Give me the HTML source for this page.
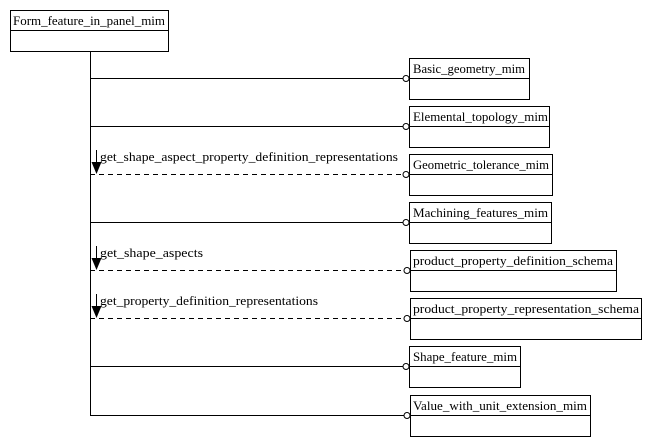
<!DOCTYPE html>
<html><head><style>html,body{margin:0;padding:0;background:#fff}svg{display:block}</style></head>
<body>
<svg width="652" height="446" xmlns="http://www.w3.org/2000/svg" style="font-family:'Liberation Serif',serif;font-size:13px">
<rect width="652" height="446" fill="#fff"/>
<g fill="none" stroke="#000" stroke-width="1">
<rect x="10.5" y="10.5" width="158" height="41"/><line x1="10.5" y1="30.5" x2="168.5" y2="30.5"/>
<line x1="90.5" y1="51" x2="90.5" y2="415"/>
<rect x="409.5" y="58.5" width="120" height="41"/><line x1="409.5" y1="78.5" x2="529.5" y2="78.5"/>
<rect x="409.5" y="106.5" width="140" height="41"/><line x1="409.5" y1="126.5" x2="549.5" y2="126.5"/>
<rect x="409.5" y="154.5" width="143" height="41"/><line x1="409.5" y1="174.5" x2="552.5" y2="174.5"/>
<rect x="409.5" y="202.5" width="142" height="41"/><line x1="409.5" y1="222.5" x2="551.5" y2="222.5"/>
<rect x="410.5" y="250.5" width="206" height="41"/><line x1="410.5" y1="270.5" x2="616.5" y2="270.5"/>
<rect x="410.5" y="298.5" width="231" height="41"/><line x1="410.5" y1="318.5" x2="641.5" y2="318.5"/>
<rect x="409.5" y="346.5" width="111" height="41"/><line x1="409.5" y1="366.5" x2="520.5" y2="366.5"/>
<rect x="410.5" y="395.5" width="180" height="41"/><line x1="410.5" y1="415.5" x2="590.5" y2="415.5"/>
<line x1="90" y1="78.5" x2="403" y2="78.5"/>
<line x1="90" y1="126.5" x2="403" y2="126.5"/>
<line x1="90" y1="174.5" x2="403" y2="174.5" stroke-dasharray="5,4"/>
<line x1="90" y1="222.5" x2="403" y2="222.5"/>
<line x1="90" y1="270.5" x2="404" y2="270.5" stroke-dasharray="5,4"/>
<line x1="90" y1="318.5" x2="404" y2="318.5" stroke-dasharray="5,4"/>
<line x1="90" y1="366.5" x2="403" y2="366.5"/>
<line x1="90" y1="415.5" x2="404" y2="415.5"/>
<circle cx="406" cy="78.5" r="3"/>
<circle cx="406" cy="126.5" r="3"/>
<circle cx="406" cy="174.5" r="3"/>
<circle cx="406" cy="222.5" r="3"/>
<circle cx="407" cy="270.5" r="3"/>
<circle cx="407" cy="318.5" r="3"/>
<circle cx="406" cy="366.5" r="3"/>
<circle cx="407" cy="415.5" r="3"/>
<line x1="96.5" y1="150" x2="96.5" y2="164"/>
<line x1="96.5" y1="246" x2="96.5" y2="260"/>
<line x1="96.5" y1="294" x2="96.5" y2="308"/>
</g>
<g fill="#000">
<polygon points="91.5,162 101.5,162 96.5,174"/>
<polygon points="91.5,258 101.5,258 96.5,270"/>
<polygon points="91.5,306 101.5,306 96.5,318"/>
</g>
<g fill="#000" lengthAdjust="spacingAndGlyphs">
<text x="13" y="25" textLength="152" lengthAdjust="spacingAndGlyphs">Form_feature_in_panel_mim</text>
<text x="413" y="73" textLength="112" lengthAdjust="spacingAndGlyphs">Basic_geometry_mim</text>
<text x="413" y="121" textLength="135" lengthAdjust="spacingAndGlyphs">Elemental_topology_mim</text>
<text x="413" y="169" textLength="136" lengthAdjust="spacingAndGlyphs">Geometric_tolerance_mim</text>
<text x="413" y="217" textLength="135" lengthAdjust="spacingAndGlyphs">Machining_features_mim</text>
<text x="413" y="265" textLength="200" lengthAdjust="spacingAndGlyphs">product_property_definition_schema</text>
<text x="413" y="313" textLength="226" lengthAdjust="spacingAndGlyphs">product_property_representation_schema</text>
<text x="413" y="361" textLength="104" lengthAdjust="spacingAndGlyphs">Shape_feature_mim</text>
<text x="413" y="410" textLength="174" lengthAdjust="spacingAndGlyphs">Value_with_unit_extension_mim</text>
<text x="100" y="161" textLength="298" lengthAdjust="spacingAndGlyphs">get_shape_aspect_property_definition_representations</text>
<text x="100" y="257" textLength="103" lengthAdjust="spacingAndGlyphs">get_shape_aspects</text>
<text x="100" y="305" textLength="218" lengthAdjust="spacingAndGlyphs">get_property_definition_representations</text>
</g>
</svg>
</body></html>
